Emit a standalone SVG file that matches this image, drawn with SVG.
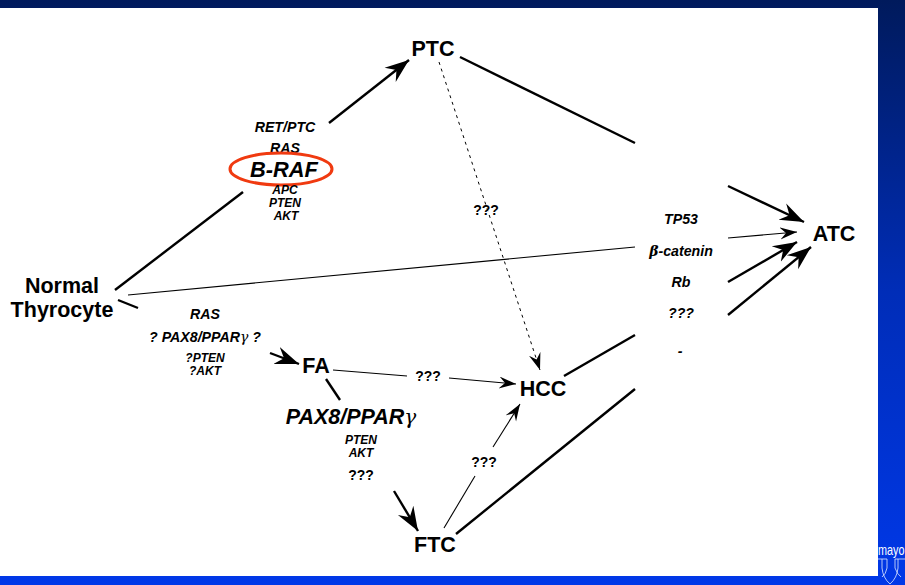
<svg xmlns="http://www.w3.org/2000/svg" width="905" height="585" viewBox="0 0 905 585">
<style>
text{font-family:"Liberation Sans",Arial,sans-serif;font-weight:bold;fill:#000;text-anchor:middle}
.n{font-size:21.5px}
.i{font-style:italic}
.s{font-size:14.2px}
.xs{font-size:12px}
.q{font-size:14px}
.g{font-family:"DejaVu Serif",serif;font-style:italic;font-weight:normal}
.c{fill:none;stroke:#000;stroke-linecap:butt}
.t1{stroke-width:2.4px}
.t2{stroke-width:1.1px}
.t3{stroke-width:1px;stroke-dasharray:3 4}
</style>
<defs>
<linearGradient id="bg" x1="0" y1="0" x2="0" y2="1">
<stop offset="0" stop-color="#001a5c"/>
<stop offset="0.5" stop-color="#002db8"/>
<stop offset="1" stop-color="#0038e8"/>
</linearGradient>
<marker id="big" markerUnits="userSpaceOnUse" markerWidth="28" markerHeight="24" refX="24" refY="10" orient="auto">
<path d="M0 1L24 10L0 19L8 10Z" fill="#000"/>
</marker>
<marker id="thin" markerUnits="userSpaceOnUse" markerWidth="24" markerHeight="16" refX="17" refY="6" orient="auto">
<path d="M0 0L17 6L0 12L6 6Z" fill="#000"/>
</marker>
</defs>
<rect id="background" width="905" height="585" fill="url(#bg)"/>
<rect id="panel" x="0" y="8" width="878" height="568" fill="#fff"/>
<g id="logo">
<text x="878" y="555" textLength="26.5" lengthAdjust="spacingAndGlyphs" style="font-size:15px;font-weight:normal;fill:#fff;text-anchor:start">mayo</text>
<path d="M878 559H887V568Q886 574 882 577M882 559V568Q883 578 890 584Q897 578 898 568V559M895 559H905M895 559V568Q897 574 901 577" fill="none" stroke="#dfe8ff" stroke-width="0.8"/>
</g>
<g id="connectors">
<path class="c t1" d="M115 290L243 192"/>
<path class="c t1" d="M329 123L409 60" marker-end="url(#big)"/>
<path class="c t1" d="M460 57L635 143"/>
<path class="c t1" d="M728 186L804 222" marker-end="url(#big)"/>
<path class="c t2" d="M128 295L635 247"/>
<path class="c t2" d="M728 238L797 232" marker-end="url(#thin)"/>
<path class="c t1" d="M118 300L138 308"/>
<path class="c t1" d="M270 353L299 364" marker-end="url(#big)"/>
<path class="c t2" d="M333 370L407 376"/>
<path class="c t2" d="M449 378L516 384" marker-end="url(#thin)"/>
<path class="c t1" d="M326 379L340 400"/>
<path class="c t1" d="M394 491L418 531" marker-end="url(#big)"/>
<path class="c t2" d="M444 528L475 476"/>
<path class="c t2" d="M493 447L520 404" marker-end="url(#thin)"/>
<path class="c t1" d="M456 534L635 389"/>
<path class="c t1" d="M728 315L811 247" marker-end="url(#big)"/>
<path class="c t1" d="M564 376L635 335"/>
<path class="c t1" d="M728 282L797 242" marker-end="url(#big)"/>
<path class="c t3" d="M439 62L540 370" marker-end="url(#thin)"/>
</g>
<g id="node-ptc"><text class="n" x="433" y="56">PTC</text></g>
<g id="node-normal"><text class="n" x="62" y="293">Normal</text><text class="n" x="62" y="317">Thyrocyte</text></g>
<g id="node-fa"><text class="n" x="316" y="373">FA</text></g>
<g id="node-hcc"><text class="n" x="543" y="396">HCC</text></g>
<g id="node-ftc"><text class="n" x="435" y="552">FTC</text></g>
<g id="node-atc"><text class="n" x="834" y="241">ATC</text></g>
<g id="label-braf">
<text class="i s" x="285" y="132">RET/PTC</text>
<text class="i s" x="285" y="153">RAS</text>
<ellipse cx="281" cy="169" rx="51" ry="16" fill="none" stroke="#f03a10" stroke-width="3"/>
<text class="i" x="284" y="177" style="font-size:21.8px">B-RAF</text>
<text class="i xs" x="285" y="194">APC</text>
<text class="i xs" x="285" y="207">PTEN</text>
<text class="i xs" x="286" y="220">AKT</text>
</g>
<g id="label-fa-left">
<text class="i s" x="205" y="319">RAS</text>
<text class="i s" x="205" y="342">? PAX8/PPAR<tspan class="g" style="font-size:14px">γ</tspan> ?</text>
<text class="i xs" x="205" y="362">?PTEN</text>
<text class="i xs" x="205" y="375">?AKT</text>
</g>
<g id="label-pax8">
<text class="i" x="351" y="424" style="font-size:21.5px">PAX8/PPAR<tspan class="g" style="font-size:20px">γ</tspan></text>
<text class="i xs" x="361" y="444">PTEN</text>
<text class="i xs" x="361" y="457">AKT</text>
<text class="q" x="361" y="480">???</text>
</g>
<g id="label-q1"><text class="q" x="486" y="215">???</text></g>
<g id="label-q2"><text class="q" x="428" y="381">???</text></g>
<g id="label-q3"><text class="q" x="484" y="467">???</text></g>
<g id="label-atc">
<text class="i s" x="681" y="224">TP53</text>
<text class="i s" x="681" y="256"><tspan class="g" style="font-weight:bold;font-size:14px">β</tspan>-catenin</text>
<text class="i s" x="681" y="287">Rb</text>
<text class="i s" x="681" y="318">???</text>
<text class="i s" x="680" y="356">-</text>
</g>
</svg>
